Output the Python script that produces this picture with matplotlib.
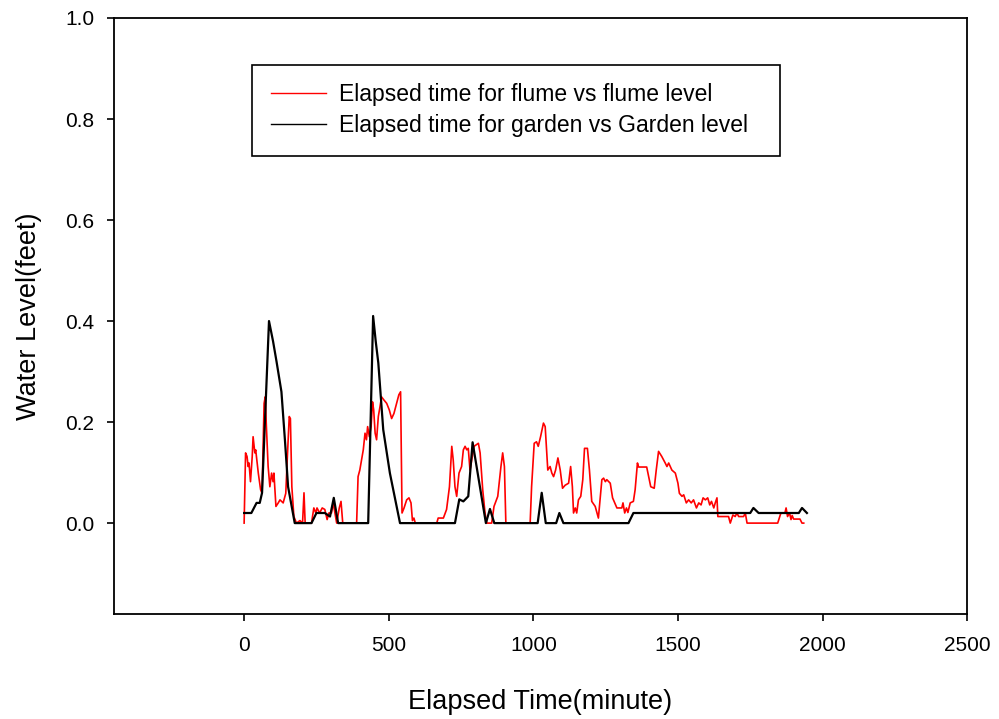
import matplotlib
matplotlib.use("Agg")
import matplotlib.pyplot as plt
import numpy as np

plt.rcParams['font.family'] = ['Liberation Sans', 'DejaVu Sans']

# flume: elapsed time (minute) and level (feet)
flume_time = [0, 5, 10, 14, 17, 22, 28, 31, 37, 40, 49, 57, 62, 69, 73, 77, 83, 89, 95, 100,
              103, 110, 118, 124, 135, 144, 149, 156, 160, 165, 172, 181, 193, 202, 207, 211,
              233, 241, 248, 252, 261, 270, 279, 287, 293, 302, 308, 314, 320, 329, 335, 341,
              389, 394, 400, 406, 412, 418, 423, 427, 433, 439, 444, 448, 453, 458, 464, 470,
              475, 483, 493, 502, 510, 518, 527, 535, 541, 543, 546, 553, 562, 570, 577, 582,
              587, 592, 666, 671, 689, 700, 710, 718, 723, 729, 735, 743, 752, 758, 764, 770,
              775, 781, 787, 795, 810, 816, 825, 833, 839, 856, 864, 877, 888, 894, 900, 905,
              989, 994, 1003, 1011, 1017, 1025, 1035, 1041, 1050, 1058, 1064, 1070, 1077, 1085,
              1093, 1101, 1110, 1122, 1129, 1135, 1139, 1145, 1150, 1156, 1164, 1171, 1177, 1187,
              1194, 1202, 1214, 1225, 1237, 1243, 1249, 1254, 1266, 1274, 1289, 1306, 1310, 1316,
              1322, 1327, 1335, 1346, 1352, 1360, 1364, 1392, 1406, 1418, 1425, 1433, 1444, 1456,
              1462, 1468, 1479, 1491, 1500, 1505, 1514, 1520, 1529, 1537, 1546, 1554, 1564, 1572,
              1580, 1587, 1595, 1603, 1610, 1616, 1624, 1629, 1635, 1638, 1675, 1681, 1690, 1698,
              1704, 1710, 1727, 1733, 1739, 1845, 1856, 1870, 1874, 1879, 1886, 1891, 1895, 1900,
              1922, 1929, 1935]
flume_level = [0, 0.139, 0.132, 0.112, 0.119, 0.082, 0.132, 0.171, 0.139, 0.145, 0.099, 0.066,
               0.059, 0.237, 0.25, 0.191, 0.112, 0.072, 0.099, 0.082,
               0.099, 0.033, 0.04, 0.046, 0.04, 0.059, 0.125, 0.211, 0.207, 0.072, 0.013, 0,
               0.005, 0, 0.06, 0,
               0, 0.03, 0.02, 0.03, 0.02, 0.03, 0.027, 0.007, 0.02, 0.02, 0.04, 0.02, 0, 0.03,
               0.043, 0,
               0, 0.092, 0.105, 0.125, 0.145, 0.178, 0.165, 0.191, 0.171, 0.191, 0.24, 0.224,
               0.178, 0.165, 0.211, 0.231,
               0.25, 0.244, 0.237, 0.224, 0.207, 0.217, 0.237, 0.254, 0.26, 0.165, 0.02, 0.03,
               0.046, 0.05, 0.04, 0.005,
               0.01, 0, 0, 0.01, 0.01, 0.027, 0.072, 0.152, 0.125, 0.072, 0.053, 0.099, 0.112,
               0.145, 0.152, 0.145,
               0.148, 0.105, 0.125, 0.152, 0.158, 0.139, 0.066, 0.02, 0, 0, 0.033, 0.053, 0.112,
               0.139, 0.112, 0,
               0, 0.072, 0.158, 0.161, 0.152, 0.171, 0.198, 0.191, 0.105, 0.112, 0.099, 0.092,
               0.105, 0.129,
               0.105, 0.069, 0.075, 0.079, 0.112, 0.072, 0.02, 0.03, 0.02, 0.046, 0.053, 0.086,
               0.148, 0.148,
               0.105, 0.043, 0.033, 0.01, 0.086, 0.089, 0.082, 0.086, 0.079, 0.05, 0.03, 0.03,
               0.04, 0.02,
               0.03, 0.021, 0.04, 0.043, 0.066, 0.119, 0.111, 0.111, 0.072, 0.069, 0.105, 0.142,
               0.132, 0.119,
               0.112, 0.119, 0.105, 0.099, 0.079, 0.059, 0.053, 0.056, 0.04, 0.046, 0.04, 0.046,
               0.03, 0.04,
               0.036, 0.05, 0.046, 0.05, 0.036, 0.043, 0.03, 0.04, 0.05, 0.013, 0.013, 0, 0.016,
               0.013,
               0.02, 0.013, 0.013, 0.02, 0, 0, 0.02, 0.02, 0.03, 0.013, 0.02, 0.007, 0.015, 0.008,
               0.008, 0, 0]

# garden
garden_time = [0, 25, 43, 54, 62, 86, 100, 112, 129, 141, 152, 175, 233, 250, 279, 297, 310,
               325, 429, 446, 455, 464, 481, 504, 539, 729, 744, 758, 775, 790, 836, 850, 865,
               1015, 1029, 1043, 1079, 1090, 1104, 1329, 1346, 1750, 1761, 1779, 1918, 1929, 1946]
garden_level = [0.02, 0.02, 0.04, 0.04, 0.06, 0.40, 0.36, 0.32, 0.26, 0.165, 0.072, 0, 0, 0.02,
                0.02, 0.013, 0.05,
                0, 0, 0.41, 0.36, 0.317, 0.185, 0.099, 0, 0, 0.047, 0.043, 0.053, 0.16, 0, 0.028, 0,
                0, 0.06, 0, 0, 0.02, 0, 0, 0.02, 0.02, 0.03, 0.02, 0.02, 0.03, 0.02]

fig = plt.figure(figsize=(9.99, 7.19), dpi=100)
ax = fig.add_axes([0.1141, 0.146, 0.854, 0.829])

ax.plot(flume_time, flume_level, color='#ff0000', lw=1.2,
        label='Elapsed time for flume vs flume level')
ax.plot(garden_time, garden_level, color='black', lw=1.6,
        label='Elapsed time for garden vs Garden level')

ax.set_xlim(-450, 2500)
ax.set_ylim(-0.18, 1.0)
ax.set_xticks(np.arange(0, 2501, 500))
ax.set_yticks(np.arange(0, 1.01, 0.2))
ax.set_yticklabels(['%.1f' % v for v in np.arange(0, 1.01, 0.2)])
ax.tick_params(direction='out', length=5, width=1.2, labelsize=15, pad=9)
ax.tick_params(axis='x', pad=11)
for s in ax.spines.values():
    s.set_linewidth(1.3)

ax.set_xlabel('Elapsed Time(minute)', fontsize=19.5, labelpad=24)
ax.set_ylabel('Water Level(feet)', fontsize=19.5, labelpad=17)

leg = ax.legend(loc='upper left', bbox_to_anchor=(0.162, 0.771, 0.619, 0.15), mode='expand',
                borderaxespad=0, fontsize=16.5, fancybox=False, framealpha=1,
                edgecolor='black', handlelength=2.4, handletextpad=0.6, labelspacing=0.34,
                borderpad=0.8)
leg.get_frame().set_linewidth(1.2)
for h in leg.get_lines():
    h.set_linewidth(1.0)

plt.savefig('out.png', dpi=100)
